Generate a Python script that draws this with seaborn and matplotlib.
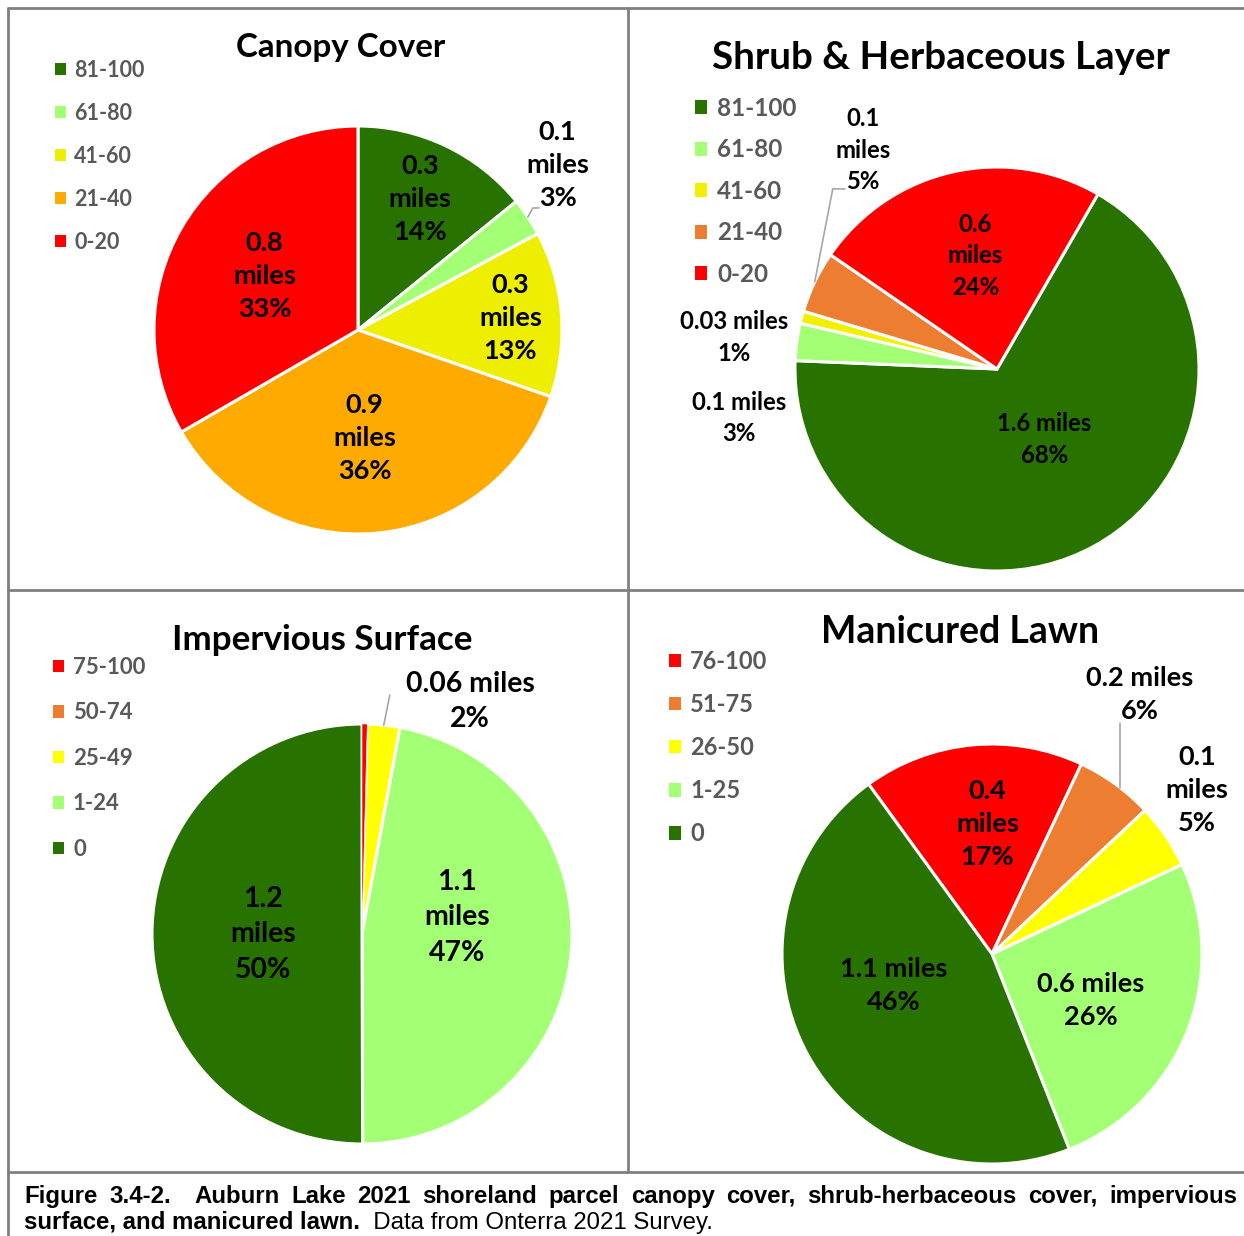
import numpy as np
import matplotlib
matplotlib.use("Agg")
import matplotlib.pyplot as plt
from matplotlib.patches import Patch
from matplotlib.lines import Line2D
import seaborn as sns

W, H = 1244, 1236

# ---- data ----
canopy_cats = ["81-100", "61-80", "41-60", "21-40", "0-20"]
canopy_share = [14, 3, 13, 36, 33]
canopy_miles = ["0.3", "0.1", "0.3", "0.9", "0.8"]
canopy_pct = [14, 3, 13, 36, 33]

shrub_cats = ["81-100", "61-80", "41-60", "21-40", "0-20"]
shrub_share = [68, 3, 1, 5, 24]
shrub_miles = ["1.6", "0.1", "0.03", "0.1", "0.6"]
shrub_pct = [68, 3, 1, 5, 24]

imperv_cats = ["75-100", "50-74", "25-49", "1-24", "0"]
imperv_share = [0.4, 0, 2.5, 47, 50]
imperv_miles = [None, None, "0.06", "1.1", "1.2"]
imperv_pct = [None, None, 2, 47, 50]

lawn_cats = ["76-100", "51-75", "26-50", "1-25", "0"]
lawn_share = [17, 6, 5, 26, 46]
lawn_miles = ["0.4", "0.2", "0.1", "0.6", "1.1"]
lawn_pct = [17, 6, 5, 26, 46]

caption_1 = ("Figure 3.4-2.  Auburn Lake 2021 shoreland parcel canopy cover, "
             "shrub-herbaceous cover, impervious")
caption_2a = "surface, and manicured lawn."
caption_2b = "  Data from Onterra 2021 Survey."

# ---- style ----
sns.set_theme(style="white")
plt.rcParams["font.family"] = ["Lato", "DejaVu Sans"]

DG, LG, RED = "#287300", "#A3FF73", "#FF0000"
canopy_colors = sns.color_palette([DG, LG, "#EEEE00", "#FFAA00", RED])
shrub_colors = sns.color_palette([DG, LG, "#F0F000", "#ED7D31", RED])
imperv_colors = sns.color_palette([RED, "#ED7D31", "#FFFF00", LG, DG])
lawn_colors = sns.color_palette([RED, "#ED7D31", "#FFFF00", LG, DG])

fig = plt.figure(figsize=(W / 100, H / 100), dpi=100)


def fx(x):
    return x / W


def fy(y):
    return 1 - y / H


# leader: (slice index, angle tweak, [pixel steps from the wedge edge])
panels = [
    dict(title="Canopy Cover", tpos=(341, 48), tsize=23.9,
         cats=canopy_cats, share=canopy_share, miles=canopy_miles, pct=canopy_pct,
         colors=canopy_colors, center=(358, 330), r=204, start=90,
         lsize=19.5, wrap=[True] * 5,
         lpos=[(0.71, 0), (1.27, 6), (0.75, 0), (0.53, -2), (0.53, 0)],
         leader=(1, 0, [(5, -9), (6, 0)]),
         leg=(55, 60), legsize=15.5, legsp=1.02),
    dict(title="Shrub & Herbaceous Layer", tpos=(941, 58), tsize=27.7,
         cats=shrub_cats, share=shrub_share, miles=shrub_miles, pct=shrub_pct,
         colors=shrub_colors, center=(997, 369), r=202, start=60,
         lsize=17.2, wrap=[False, False, False, True, True],
         lpos=[(0.42, 5), (1.30, 18.5), (1.31, 8), (1.27, -33), (0.57, -2)],
         leader=(3, 0, [(18, -93), (12, 0)]),
         leg=(695, 97), legsize=17.5, legsp=0.76),
    dict(title="Impervious Surface", tpos=(322, 640), tsize=25.2,
         cats=imperv_cats, share=imperv_share, miles=imperv_miles, pct=imperv_pct,
         colors=imperv_colors, center=(362, 934), r=210, start=90,
         lsize=20.4, wrap=[False, False, False, True, True],
         lpos=[None, None, (1.22, -19), (0.46, 15), (0.47, 0)],
         leader=(2, 0, [(6, -30)]),
         leg=(53, 657), legsize=16, legsp=1.10),
    dict(title="Manicured Lawn", tpos=(960, 632), tsize=27,
         cats=lawn_cats, share=lawn_share, miles=lawn_miles, pct=lawn_pct,
         colors=lawn_colors, center=(992, 954), r=210, start=126,
         lsize=19.5, wrap=[True, False, True, False, False],
         lpos=[(0.62, -3.4), (1.42, 6.3), (1.25, 4.5), (0.52, -3.5), (0.49, -11)],
         leader=(1, -1.6, [(0, -65)]),
         leg=(669, 650), legsize=17, legsp=0.85),
]

K = 1.6
for p in panels:
    cx, cy = p["center"]
    r = p["r"]
    ax = fig.add_axes([fx(cx - K * r), fy(cy + K * r), 2 * K * r / W, 2 * K * r / H])
    wedges, _ = ax.pie(p["share"], colors=p["colors"], startangle=p["start"],
                       counterclock=False, radius=1,
                       wedgeprops=dict(edgecolor="white", linewidth=2.2))
    # very thin slices: thin edge and drawn on top so they stay visible
    for w, s in zip(wedges, p["share"]):
        if 0 < s < 1:
            w.set_linewidth(0.4)
            w.set_zorder(5)
    ax.set_xlim(-K, K)
    ax.set_ylim(-K, K)
    ax.set_aspect("equal")
    ax.axis("off")

    for i, (w, m, pc, wrap) in enumerate(zip(wedges, p["miles"], p["pct"], p["wrap"])):
        if m is None:
            continue
        rr, dt = p["lpos"][i]
        mid = (w.theta1 + w.theta2) / 2
        ang = np.deg2rad(mid + dt)
        txt = f"{m}\nmiles\n{pc}%" if wrap else f"{m} miles\n{pc}%"
        ax.text(rr * np.cos(ang), rr * np.sin(ang), txt, ha="center", va="center",
                fontsize=p["lsize"], fontweight="bold", color="black",
                linespacing=1.45)

    li, tweak, steps = p["leader"]
    w = wedges[li]
    a0 = np.deg2rad((w.theta1 + w.theta2) / 2 + tweak)
    xs, ys = [np.cos(a0)], [np.sin(a0)]
    for dx, dy in steps:
        xs.append(xs[-1] + dx / r)
        ys.append(ys[-1] - dy / r)
    ax.plot(xs, ys, color="#A6A6A6", lw=1.2, clip_on=False)

    fig.text(fx(p["tpos"][0]), fy(p["tpos"][1]), p["title"], ha="center", va="center",
             fontsize=p["tsize"], fontweight="bold", color="black")

    handles = [Patch(facecolor=c, edgecolor="none") for c in p["colors"]]
    fig.legend(handles, p["cats"], loc="upper left",
               bbox_to_anchor=(fx(p["leg"][0]), fy(p["leg"][1])),
               bbox_transform=fig.transFigure, frameon=False,
               handlelength=0.5, handleheight=0.5, handletextpad=0.4,
               labelspacing=p["legsp"], borderpad=0, borderaxespad=0,
               prop=dict(family=["Lato", "DejaVu Sans"], weight="bold", size=p["legsize"]),
               labelcolor="#595959")

# ---- panel borders ----
gray = "#808080"
for (x0, y0, x1, y1) in [(8, 8, 1244, 8), (8, 8, 8, 1236), (628, 8, 628, 1172),
                         (8, 590, 1244, 590), (8, 1172, 1244, 1172)]:
    fig.add_artist(Line2D([fx(x0), fx(x1)], [fy(y0), fy(y1)], color=gray, lw=2,
                          transform=fig.transFigure))

# ---- caption (justified first line) ----
cap_fam = ["Liberation Sans", "DejaVu Sans"]
cap_size = 17.3
fig.canvas.draw()
rend = fig.canvas.get_renderer()
toks = caption_1.split(" ")
arts = [fig.text(0, fy(1203), t, fontsize=cap_size, fontweight="bold",
                 family=cap_fam, color="black", va="baseline") for t in toks]
widths = [a.get_window_extent(rend).width if a.get_text() else 0 for a in arts]
x_left, x_right = 24, 1237
gap = (x_right - x_left - sum(widths)) / (len(toks) - 1)
x = x_left
for a, w in zip(arts, widths):
    a.set_x(fx(x))
    x += w + gap

t2a = fig.text(fx(24), fy(1229), caption_2a, fontsize=cap_size, fontweight="bold",
               family=cap_fam, color="black", va="baseline")
w2a = t2a.get_window_extent(rend).width
fig.text(fx(24 + w2a), fy(1229), caption_2b, fontsize=cap_size,
         family=cap_fam, color="black", va="baseline")

fig.savefig("out.png", dpi=100)
